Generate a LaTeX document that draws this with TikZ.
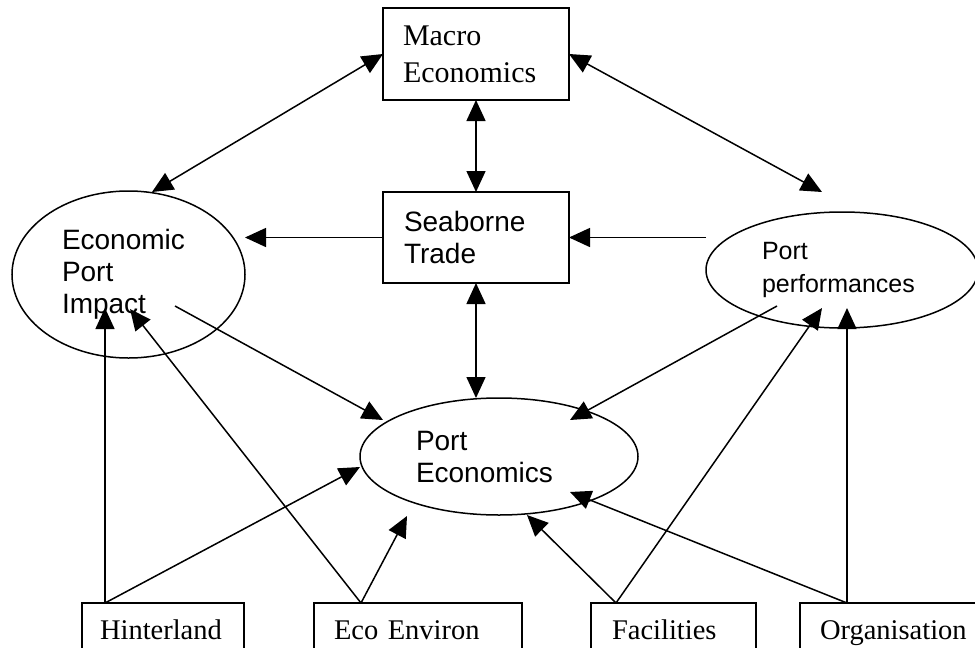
\documentclass[tikz,border=0pt]{standalone}
\usepackage{fontspec}
\setmainfont{Liberation Serif}
\newfontfamily\arialfont{Liberation Sans}
\usetikzlibrary{arrows.meta,shapes.geometric}

\tikzset{
	conn/.style={line width=1.5, -{Triangle[length=21pt,width=19pt]}},
	twoway/.style={line width=1.5, {Triangle[length=21pt,width=19pt]}-{Triangle[length=21pt,width=19pt]}},
	block/.style={rectangle, draw=black, line width=1.5, align=left, font=\fontsize{30}{37}\selectfont},
	factor/.style={rectangle, draw=black, line width=1.5, align=left, minimum height=60, text height=20, text depth=7, font=\fontsize{28.5}{34}\selectfont},
	oval/.style={ellipse, draw=black, line width=1.5, align=left, font=\arialfont\fontsize{28}{32}\selectfont}
}

\begin{document}
\begin{tikzpicture}[y=1pt, x=1pt, yscale=-1, inner sep=0pt, outer sep=0pt]
\clip (0,0) rectangle (975,648);
	% top and middle
	\node[block, minimum width=186, minimum height=92, text width=146] (macro) at (476,54) {Macro\\Economics};
	\node[block, font=\arialfont\fontsize{28}{32}\selectfont, minimum width=186, minimum height=91, text width=144] (sea) at (476,237.5) {Seaborne\\Trade};
	\node[oval, minimum width=233, minimum height=167, text width=133] (epi) at (128.5,274.5) {Economic\\Port\\Impact};
	\node[oval, font=\arialfont\fontsize{25}{33}\selectfont, minimum width=272, minimum height=116, text width=160] (pp) at (842,270) {Port\\performances};
	\node[oval, minimum width=278, minimum height=117, text width=166] (pe) at (499,456.5) {Port\\Economics};
	% factors
	\node[factor, minimum width=162, text width=126] (hint) at (163,633) {Hinterland};
	\node[factor, minimum width=208, text width=168] (eco) at (418,633) {Eco Environ};
	\node[factor, minimum width=165, text width=123] (fac) at (673.5,633) {Facilities};
	\node[factor, minimum width=190, text width=150] (org) at (895,633) {Organisation};
	% arrow ends
	\coordinate (epiTop) at (152,192);
	\coordinate (ppTop) at (822,192);
	\coordinate (epiOut) at (175,306);
	\coordinate (ppOut) at (777,306);
	\coordinate (peTipA) at (383,420);
	\coordinate (peTipB) at (570,420);
	\coordinate (peTipC) at (360,467);
	\coordinate (peTipD) at (407,516);
	\coordinate (peTipE) at (527,515);
	\coordinate (peTipF) at (570,492);
	\coordinate (epiTipA) at (105,308);
	\coordinate (epiTipB) at (130,309);
	\coordinate (ppTipA) at (822,308);
	\coordinate (ppTipB) at (847,308);

	\draw[twoway] (macro.west) -- (epiTop);
	\draw[twoway] (macro.east) -- (ppTop);
	\draw[twoway] (macro.south) -- (sea.north);
	\draw[twoway] (sea.south) -- (sea.south |- pe.north);
	\draw[conn] (sea.west) -- (sea.west -| epi.east);
	\draw[conn] (pp.west |- sea.east) -- (sea.east);
	\draw[conn] (epiOut) -- (peTipA);
	\draw[conn] (ppOut) -- (peTipB);
	\draw[conn] ([xshift=23pt]hint.north west) -- (epiTipA);
	\draw[conn] ([xshift=23pt]hint.north west) -- (peTipC);
	\draw[conn] ([xshift=47pt]eco.north west) -- (epiTipB);
	\draw[conn] ([xshift=47pt]eco.north west) -- (peTipD);
	\draw[conn] ([xshift=25pt]fac.north west) -- (peTipE);
	\draw[conn] ([xshift=25pt]fac.north west) -- (ppTipA);
	\draw[conn] ([xshift=47pt]org.north west) -- (peTipF);
	\draw[conn] ([xshift=47pt]org.north west) -- (ppTipB);
\end{tikzpicture}
\end{document}
